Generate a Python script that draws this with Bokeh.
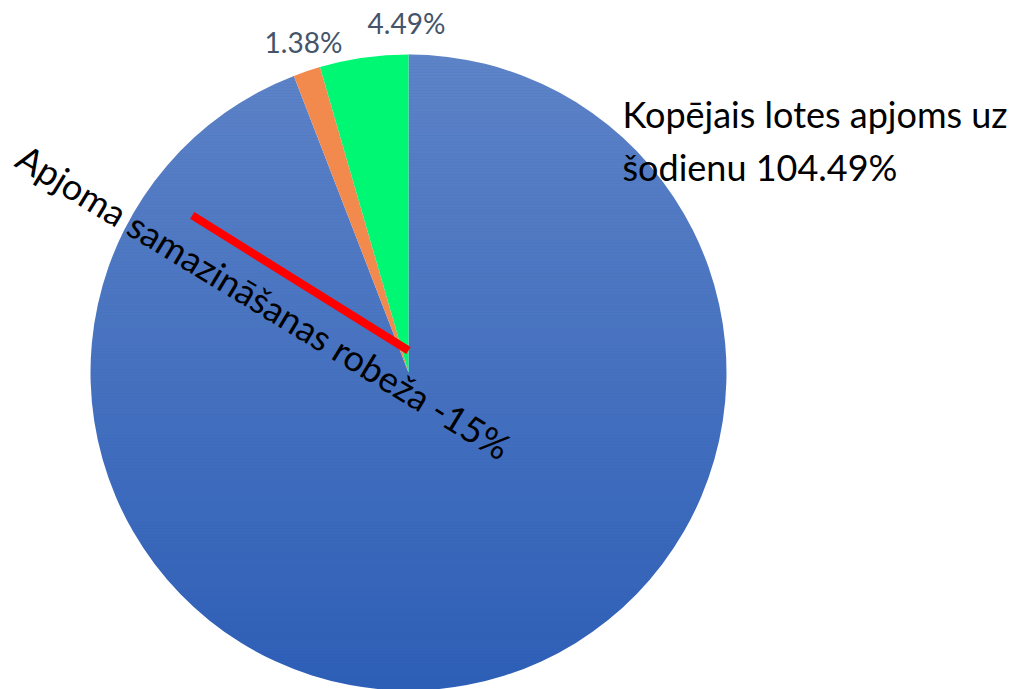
import math
from bokeh.plotting import figure
from bokeh.models import Range1d, ColumnDataSource, Label
from bokeh.embed import file_html
from bokeh.resources import INLINE

# ---- data ----
categories = ["Kopējais lotes apjoms", "Samazinājums", "Pieaugums"]
shares = [94.13, 1.38, 4.49]
slice_labels = ["", "1.38%", "4.49%"]
colors = ["#2e5fb7", "#f28a4e", "#00f774"]
total_label = "Kopējais lotes apjoms uz\nšodienu 104.49%"
limit_label = "Apjoma samazināšanas robeža -15%"
limit_angle_deg = 148.0

# ---- layout ----
W, H = 1016, 689
cx, cy, R = 408, H - 372, 318
FONT = "Lato"

p = figure(width=W, height=H, x_range=Range1d(0, W), y_range=Range1d(0, H),
           output_backend="svg", toolbar_location=None, min_border=0)
p.axis.visible = False
p.grid.visible = False
p.outline_line_color = None
p.background_fill_color = "white"
p.border_fill_color = "white"

tot = sum(shares)
starts, ends = [], []
cum = 0.0
for s in shares:
    starts.append(math.radians(90 - 360 * cum / tot))
    cum += s
    ends.append(math.radians(90 - 360 * cum / tot))

src = ColumnDataSource(dict(cat=categories, val=shares, start=starts, end=ends, color=colors))
# main slice
p.wedge(x=cx, y=cy, radius=R, start_angle="start", end_angle="end", direction="clock",
        fill_color="color", line_color=None,
        source=ColumnDataSource({k: v[:1] for k, v in src.data.items()}))

# vertical light gradient over main slice (white over white background stays white)
band = 3
y0s, y1s, alphas = [], [], []
ybot, ytop = cy - R, cy + R
y = ybot
while y < ytop:
    y0s.append(y)
    y1s.append(y + band)
    alphas.append(0.23 * (y + band / 2 - ybot) / (2 * R))
    y += band
p.quad(left=cx - R - 2, right=cx + R + 2, bottom=y0s, top=y1s,
       fill_color="white", fill_alpha=alphas, line_color=None)

# small slices
p.wedge(x=cx, y=cy, radius=R, start_angle="start", end_angle="end", direction="clock",
        fill_color="color", line_color=None,
        source=ColumnDataSource({k: v[1:] for k, v in src.data.items()}))

# limit line
ex, ey = cx, cy + 22
L = 255
a = math.radians(limit_angle_deg)
p.segment(x0=[ex + L * math.cos(a)], y0=[ey + L * math.sin(a)], x1=[ex], y1=[ey],
          line_color="#ff0000", line_width=8, line_cap="butt")

# slice labels
label_pos = {1: (303, H - 41), 2: (406, H - 22)}
for i, (lx, ly) in label_pos.items():
    p.add_layout(Label(x=lx, y=ly, text=slice_labels[i], text_font=FONT,
                       text_font_size="28px", text_color="#44546a",
                       text_align="center", text_baseline="alphabetic"))

p.add_layout(Label(x=622, y=H - 140, text=total_label, text_font=FONT,
                   text_font_size="36px", text_color="black",
                   text_align="left", text_baseline="alphabetic",
                   text_line_height=1.2))

p.add_layout(Label(x=20, y=H - 153, text=limit_label, text_font=FONT,
                   text_font_size="36px", text_color="black",
                   angle=math.radians(-31.3), text_align="left", text_baseline="alphabetic"))

open("out.html", "w").write(file_html(p, INLINE))
